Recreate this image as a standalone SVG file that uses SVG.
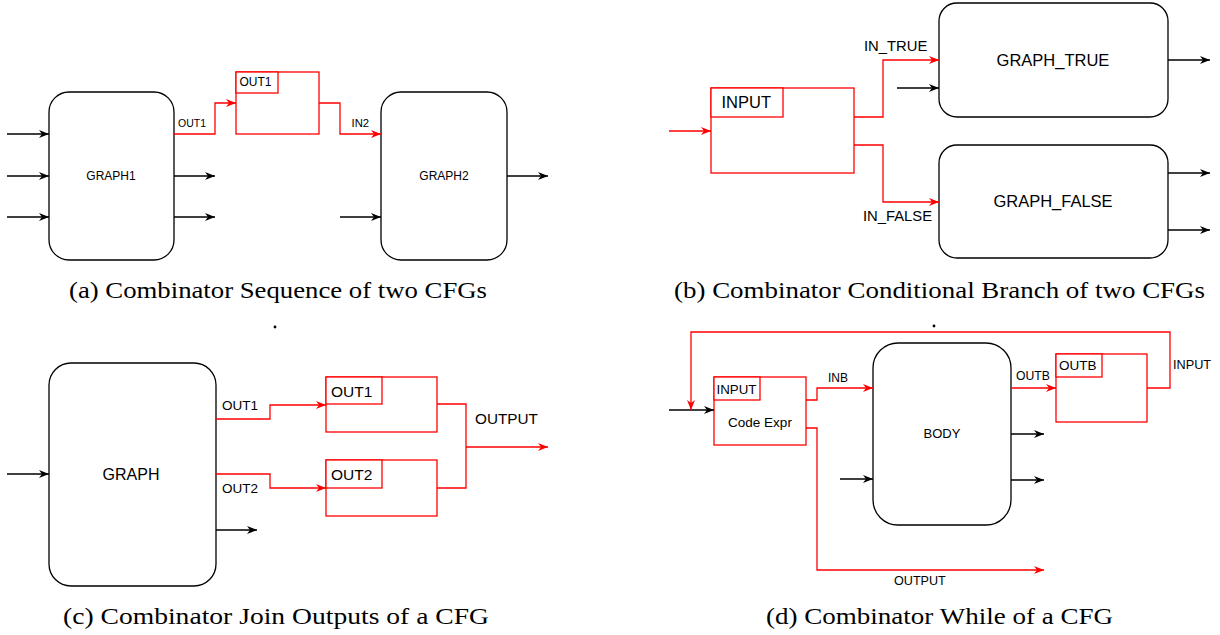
<svg xmlns="http://www.w3.org/2000/svg" width="1220" height="635" viewBox="0 0 1220 635">
<style>
.blk{fill:none;stroke:#000;stroke-width:1.3}
.red{fill:none;stroke:#FF0000;stroke-width:1.3}
.rb{fill:#fff;stroke:#FF0000;stroke-width:1.3}
.node{fill:#fff;stroke:#000;stroke-width:1.3}
.t{font-family:"Liberation Sans",Arial,sans-serif;fill:#000}
.cap{font-family:"Liberation Serif","DejaVu Serif",serif;font-size:22.5px;fill:#000}
.ab{marker-end:url(#ab)}
.ar{marker-end:url(#ar)}
</style>
<defs>
<marker id="ab" viewBox="0 0 10 8" refX="10" refY="4" markerWidth="10" markerHeight="8" markerUnits="userSpaceOnUse" orient="auto"><path d="M0,0 L10,4 L0,8 L3,4 z" fill="#000"/></marker>
<marker id="ar" viewBox="0 0 10 8" refX="10" refY="4" markerWidth="10" markerHeight="8" markerUnits="userSpaceOnUse" orient="auto"><path d="M0,0 L10,4 L0,8 L3,4 z" fill="#FF0000"/></marker>
</defs>
<rect width="1220" height="635" fill="#fff"/>

<!-- (a) -->
<g id="graph1"><rect class="node" x="49" y="92" width="125" height="168" rx="20"/><text class="t" x="111" y="180" font-size="12" text-anchor="middle">GRAPH1</text></g>
<g id="graph2"><rect class="node" x="381" y="92" width="126" height="168" rx="20"/><text class="t" x="444" y="180" font-size="12" text-anchor="middle">GRAPH2</text></g>
<g id="out1a"><rect class="rb" x="236" y="72" width="83" height="62"/><rect class="rb" x="236" y="72" width="42" height="21"/><text class="t" x="239.5" y="86" font-size="12">OUT1</text></g>

<!-- (b) -->
<g id="inputb"><rect class="rb" x="711" y="88" width="143" height="85"/><rect class="rb" x="711" y="88" width="72" height="29"/><text class="t" x="721.5" y="108" font-size="16.5">INPUT</text></g>
<g id="graphtrue"><rect class="node" x="939" y="3" width="229" height="114" rx="18"/><text class="t" x="1053" y="66" font-size="16.5" text-anchor="middle">GRAPH_TRUE</text></g>
<g id="graphfalse"><rect class="node" x="939" y="145" width="229" height="113" rx="18"/><text class="t" x="1053" y="207" font-size="16.5" text-anchor="middle">GRAPH_FALSE</text></g>

<!-- (c) -->
<g id="graphc"><rect class="node" x="49" y="363" width="167" height="223" rx="22"/><text class="t" x="131" y="480" font-size="16" text-anchor="middle">GRAPH</text></g>
<g id="out1c"><rect class="rb" x="326" y="377" width="111" height="55"/><rect class="rb" x="326" y="377" width="56" height="27"/><text class="t" x="331" y="397" font-size="15.5">OUT1</text></g>
<g id="out2c"><rect class="rb" x="326" y="460" width="111" height="56"/><rect class="rb" x="326" y="460" width="56" height="28"/><text class="t" x="331" y="480" font-size="15.5">OUT2</text></g>

<!-- (d) -->
<g id="codeexpr"><rect class="rb" x="714" y="377" width="92" height="68"/><rect class="rb" x="714" y="377" width="46" height="23"/><text class="t" x="716.5" y="393.5" font-size="13.3">INPUT</text><text class="t" x="760" y="427" font-size="13.5" text-anchor="middle">Code Expr</text></g>
<g id="body"><rect class="node" x="873" y="343" width="138" height="182" rx="25"/><text class="t" x="942" y="438" font-size="13" text-anchor="middle">BODY</text></g>
<g id="outb"><rect class="rb" x="1056" y="354" width="91" height="68"/><rect class="rb" x="1056" y="354" width="46" height="23"/><text class="t" x="1059" y="370" font-size="13.5">OUTB</text></g>

<g id="connectors">
<!-- (a) -->
<path class="blk ab" d="M7,134 H49"/>
<path class="blk ab" d="M7,176 H49"/>
<path class="blk ab" d="M7,217 H49"/>
<path class="blk ab" d="M174,176 H215"/>
<path class="blk ab" d="M174,217 H215"/>
<path class="blk ab" d="M340,217 H381"/>
<path class="blk ab" d="M507,176 H548"/>
<path class="red ar" d="M174,134 H215 V103 H236"/>
<path class="red ar" d="M319,103 H340 V134 H381"/>
<!-- (b) -->
<path class="red ar" d="M669,131 H711"/>
<path class="red ar" d="M854,117 H883 V60 H939"/>
<path class="red ar" d="M854,145 H883 V202 H939"/>
<path class="blk ab" d="M897,88 H939"/>
<path class="blk ab" d="M1168,60 H1210"/>
<path class="blk ab" d="M1168,173 H1210"/>
<path class="blk ab" d="M1168,230 H1210"/>
<!-- (c) -->
<path class="blk ab" d="M7,474 H49"/>
<path class="blk ab" d="M216,530 H257"/>
<path class="red ar" d="M216,419 H270 V405 H326"/>
<path class="red ar" d="M216,474 H270 V488 H326"/>
<path class="red" d="M437,404 H466 V488 H437"/>
<path class="red ar" d="M466,447 H548"/>
<!-- (d) -->
<path class="blk ab" d="M669,410 H714"/>
<path class="blk ab" d="M840,479 H873"/>
<path class="blk ab" d="M1011,434 H1044"/>
<path class="blk ab" d="M1011,480 H1044"/>
<path class="red ar" d="M806,400 H817 V388 H873"/>
<path class="red ar" d="M806,428 H817 V570 H1044"/>
<path class="red ar" d="M1011,388 H1056"/>
<path class="red ar" d="M1147,388 H1170 V332 H691 V410"/>
</g>

<g id="labels">
<text class="t" x="178" y="127" font-size="10.5">OUT1</text>
<text class="t" x="351.5" y="127" font-size="11.3">IN2</text>
<text class="t" x="864" y="50.5" font-size="14.8">IN_TRUE</text>
<text class="t" x="863" y="221" font-size="14.8">IN_FALSE</text>
<text class="t" x="222" y="410" font-size="13.5">OUT1</text>
<text class="t" x="222" y="493" font-size="13.5">OUT2</text>
<text class="t" x="475" y="424" font-size="15.3">OUTPUT</text>
<text class="t" x="828" y="382" font-size="12">INB</text>
<text class="t" x="1016" y="380" font-size="12.2">OUTB</text>
<text class="t" x="1173" y="369" font-size="12.7">INPUT</text>
<text class="t" x="894" y="585" font-size="12.6">OUTPUT</text>
</g>

<g id="captions">
<text class="cap" x="69" y="298" textLength="418" lengthAdjust="spacingAndGlyphs">(a) Combinator Sequence of two CFGs</text>
<text class="cap" x="674" y="298" textLength="531" lengthAdjust="spacingAndGlyphs">(b) Combinator Conditional Branch of two CFGs</text>
<text class="cap" x="63" y="624" textLength="426" lengthAdjust="spacingAndGlyphs">(c) Combinator Join Outputs of a CFG</text>
<text class="cap" x="766" y="624" textLength="347" lengthAdjust="spacingAndGlyphs">(d) Combinator While of a CFG</text>
<circle cx="275" cy="327" r="1.4" fill="#000"/>
<circle cx="934" cy="326" r="1.4" fill="#000"/>
</g>
</svg>
